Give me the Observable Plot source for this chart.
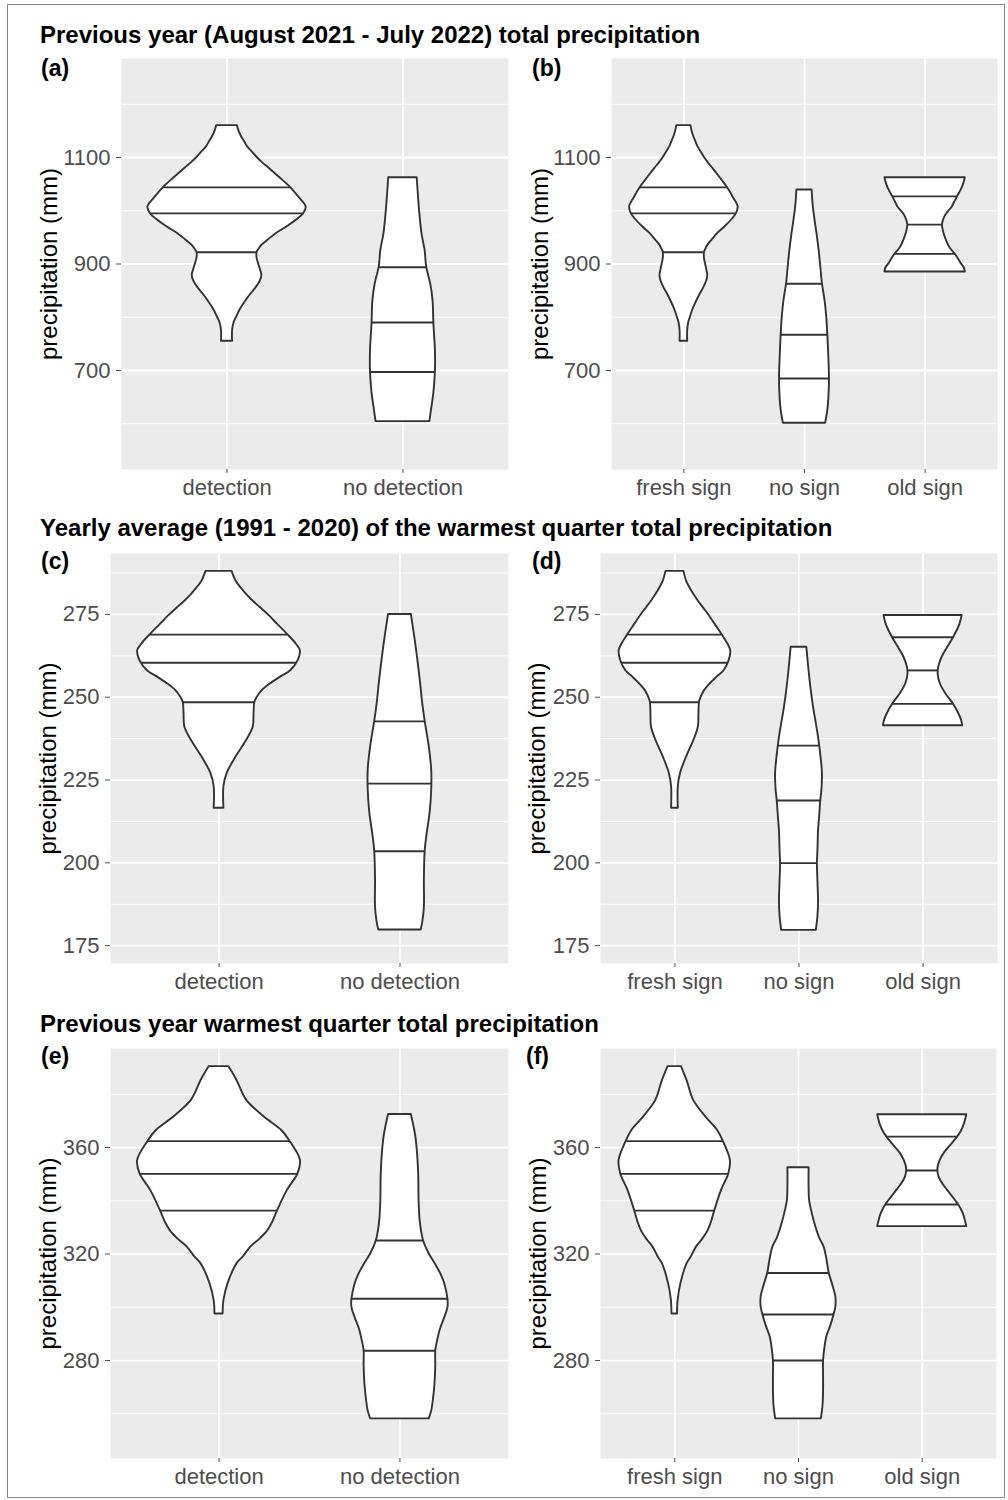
<!DOCTYPE html>
<html><head><meta charset="utf-8">
<script src="https://cdn.jsdelivr.net/npm/d3@7"></script>
<script src="https://cdn.jsdelivr.net/npm/@observablehq/plot@0.6"></script>
<style>
body{margin:0;background:#fff;}
#fig{position:relative;width:1008px;height:1500px;font-family:"Liberation Sans",Arial,sans-serif;overflow:hidden;}
.pl{position:absolute;}
.t{position:absolute;font-weight:bold;font-size:24px;line-height:24px;white-space:nowrap;color:#000;}
.tag{position:absolute;font-weight:bold;font-size:23px;line-height:23px;white-space:nowrap;color:#000;}
#border{position:absolute;left:7px;top:4px;width:998px;height:1494px;border:1.5px solid #8a8a8a;box-sizing:border-box;pointer-events:none}
</style></head><body><div id="fig"></div>
<script>
// ---------- categories ----------
const catsDetection = ["detection", "no detection"];
const catsSign = ["fresh sign", "no sign", "old sign"];

// ---------- section titles & panel tags ----------
const sectionTitles = [
  "Previous year (August 2021 - July 2022) total precipitation",
  "Yearly average (1991 - 2020) of the warmest quarter total precipitation",
  "Previous year warmest quarter total precipitation"
];
const panelTags = ["(a)", "(b)", "(c)", "(d)", "(e)", "(f)"];
const yTitle = "precipitation (mm)";

// ---------- violin profiles: [precipitation, relative density (1 = widest)] ----------
// Previous year total precipitation (a, b)
const prevDetection = [[755,.07],[775,.07],[790,.09],[800,.12],[815,.17],[831,.24],[845,.31],[856,.37],[868,.42],[878,.44],[890,.42],[900,.40],[910,.38],[922,.38],[929,.41],[935,.44],[945,.52],[957,.62],[970,.76],[985,.90],[995,.97],[1007,1.0],[1025,.91],[1044,.80],[1063,.66],[1080,.53],[1090,.45],[1100,.38],[1110,.32],[1120,.26],[1130,.22],[1140,.18],[1150,.15],[1160,.13]];
const prevDetectionQ = [922, 995, 1044];
const prevNoDetection = [[604,.34],[625,.36],[657,.39],[697,.41],[737,.41],[790,.39],[831,.38],[863,.35],[894,.30],[925,.28],[957,.24],[1000,.21],[1040,.19],[1062,.18]];
const prevNoDetectionQ = [697, 790, 894];
const prevNoSign = [[601,.39],[625,.43],[650,.45],[685,.46],[720,.45],[767,.43],[800,.41],[830,.38],[863,.33],[895,.30],[925,.27],[957,.23],[985,.19],[1010,.16],[1039,.14]];
const prevNoSignQ = [685, 767, 863];
const prevOldSign = [[885,.74],[893,.72],[900,.67],[910,.61],[919,.55],[930,.46],[945,.39],[960,.34],[974,.32],[990,.37],[1007,.50],[1015,.54],[1027,.60],[1040,.67],[1050,.71],[1062,.74]];
const prevOldSignQ = [919, 974, 1027];

// Yearly average (1991-2020) warmest quarter precipitation (c, d)
const avgDetection = [[216.5,.06],[223,.06],[227,.10],[232,.21],[237,.34],[241,.42],[245,.43],[248.5,.44],[250,.47],[252,.53],[254,.63],[256,.75],[258,.88],[261,.97],[264,1.0],[266,.95],[269,.84],[272,.72],[275,.60],[277,.51],[279,.42],[281,.34],[283,.27],[285,.21],[288,.16]];
const avgDetectionQ = [248.5, 260.4, 268.9];
const avgNoDetection = [[179.7,.26],[182,.28],[186.5,.30],[195,.30],[203.5,.31],[208,.33],[215,.37],[222,.39],[228,.39],[235,.36],[242.7,.31],[248,.28],[255,.25],[265,.20],[275,.14]];
const avgNoDetectionQ = [203.5, 223.9, 242.7];
const avgNoSign = [[179.6,.31],[184,.34],[188.4,.35],[194,.34],[199.9,.33],[204,.34],[209.7,.35],[214,.37],[218.8,.39],[222,.41],[226.8,.42],[231,.40],[235.4,.37],[239,.34],[243,.30],[247,.26],[252,.22],[258,.18],[265.1,.14]];
const avgNoSignQ = [199.9, 218.8, 235.4];
const avgOldSign = [[241.4,.71],[243,.69],[245,.64],[248,.54],[251,.41],[254,.31],[257,.27],[259,.28],[262,.34],[265,.44],[268.1,.55],[272,.66],[274.7,.70]];
const avgOldSignQ = [248, 258.1, 268.1];

// Previous year warmest quarter precipitation (e, f)
const warmDetection = [[297.5,.05],[302.5,.06],[308.8,.11],[316.3,.22],[319,.30],[322.6,.39],[325.5,.50],[328.8,.60],[332,.66],[336.3,.72],[343.9,.84],[350.1,.97],[355.1,1.0],[362.4,.87],[366.4,.77],[371.4,.56],[377.7,.34],[385.2,.22],[390.4,.12]];
const warmDetectionQ = [336.3, 350.1, 362.4];
const warmNoDetection = [[258.1,.36],[261,.39],[265,.41],[271,.43],[278,.44],[283.7,.44],[287,.46],[292,.50],[296,.55],[300,.59],[303,.59],[308.8,.55],[312,.51],[316,.44],[320,.36],[325,.29],[332,.25],[340,.235],[350,.23],[360,.21],[365,.19],[372.4,.14]];
const warmNoDetectionQ = [283.7, 303.2, 325.1];
const warmNoSign = [[258.1,.41],[263,.44],[268.7,.45],[274,.45],[280,.45],[284,.47],[289,.51],[293,.58],[297.3,.64],[300,.67],[304,.67],[308,.62],[313,.55],[318,.51],[322.6,.46],[326,.38],[331,.30],[335,.25],[340,.20],[345,.19],[352.4,.19]];
const warmNoSignQ = [280, 297.3, 312.9];
const warmOldSign = [[330.3,.80],[332,.78],[335,.74],[338.6,.65],[340,.60],[343,.49],[346,.38],[349,.30],[352,.28],[355,.32],[358,.40],[361,.52],[364.1,.64],[366,.70],[369,.76],[372.3,.80]];
const warmOldSignQ = [338.6, 351.4, 364.1];

// ---------- axis ticks ----------
const ticksPrev = [700, 900, 1100], minorPrev = [600, 800, 1000, 1200];
const ticksAvg = [175, 200, 225, 250, 275], minorAvg = [187.5, 212.5, 237.5, 262.5, 287.5];
const ticksWarm = [280, 320, 360], minorWarm = [260, 300, 340, 380];

// ---------- layout ----------
const panels = [
  {tag:0, left:10,  top:48,   w:505, h:462, frame:[121,508,58,469],   y:[514,1286],   major:ticksPrev, minor:minorPrev, cats:catsDetection,
   violins:[[prevDetection,prevDetectionQ],[prevNoDetection,prevNoDetectionQ]], titleX:49, tagX:41, tagBase:76},
  {tag:1, left:515, top:48,   w:488, h:462, frame:[611,997,58,469],   y:[514,1286],   major:ticksPrev, minor:minorPrev, cats:catsSign,
   violins:[[prevDetection,prevDetectionQ],[prevNoSign,prevNoSignQ],[prevOldSign,prevOldSignQ]], titleX:540, tagX:532, tagBase:76},
  {tag:2, left:10,  top:545,  w:505, h:460, frame:[110,508,553,963],  y:[169.6,293.4], major:ticksAvg, minor:minorAvg, cats:catsDetection,
   violins:[[avgDetection,avgDetectionQ],[avgNoDetection,avgNoDetectionQ]], titleX:48, tagX:41, tagBase:569},
  {tag:3, left:515, top:545,  w:488, h:460, frame:[600,997,553,963],  y:[169.6,293.4], major:ticksAvg, minor:minorAvg, cats:catsSign,
   violins:[[avgDetection,avgDetectionQ],[avgNoSign,avgNoSignQ],[avgOldSign,avgOldSignQ]], titleX:537, tagX:532, tagBase:569},
  {tag:4, left:10,  top:1040, w:505, h:455, frame:[110,508,1048,1458], y:[243.2,397.2], major:ticksWarm, minor:minorWarm, cats:catsDetection,
   violins:[[warmDetection,warmDetectionQ],[warmNoDetection,warmNoDetectionQ]], titleX:48, tagX:41, tagBase:1064},
  {tag:5, left:515, top:1040, w:488, h:455, frame:[600,996,1048,1458], y:[243.2,397.2], major:ticksWarm, minor:minorWarm, cats:catsSign,
   violins:[[warmDetection,warmDetectionQ],[warmNoSign,warmNoSignQ],[warmOldSign,warmOldSignQ]], titleX:538, tagX:526, tagBase:1064}
];
const titleBaselines = [43.5, 536, 1032];

function widthAt(profile, v) {
  for (let i = 0; i < profile.length - 1; i++) {
    const [v0, d0] = profile[i], [v1, d1] = profile[i + 1];
    if (v >= v0 && v <= v1) return d0 + (d1 - d0) * (v - v0) / (v1 - v0);
  }
  return v < profile[0][0] ? profile[0][1] : profile[profile.length - 1][1];
}

const HALF = 0.45;
const fig = document.getElementById("fig");

for (const p of panels) {
  const [fx0, fx1, fy0, fy1] = p.frame;
  const n = p.cats.length;
  const marks = [
    Plot.frame({fill: "#EBEBEB", stroke: "none"}),
    Plot.ruleY(p.minor, {stroke: "white", strokeWidth: 0.9}),
    Plot.ruleY(p.major, {stroke: "white", strokeWidth: 1.8}),
    Plot.ruleX(d3.range(1, n + 1), {stroke: "white", strokeWidth: 1.8})
  ];
  p.violins.forEach(([profile, quart], i) => {
    const pos = i + 1;
    const rows = profile.map(([v, d]) => ({v, d}));
    marks.push(Plot.areaX(rows, {
      y: "v", x1: r => pos - HALF * r.d, x2: r => pos + HALF * r.d,
      fill: "white", stroke: "#333333", strokeWidth: 1.9, curve: "catmull-rom"
    }));
    const qs = quart.map(q => ({q, d: widthAt(profile, q)}));
    marks.push(Plot.ruleY(qs, {
      y: "q", x1: r => pos - HALF * r.d, x2: r => pos + HALF * r.d,
      stroke: "#333333", strokeWidth: 1.9
    }));
  });
  marks.push(
    Plot.axisY(p.major, {tickSize: 5, tickPadding: 6, fontSize: 22, tickFormat: d => `${d}`, color: "#4d4d4d", label: null}),
    Plot.axisX(d3.range(1, n + 1), {tickSize: 4, tickPadding: 6, fontSize: 22, tickFormat: i => p.cats[i - 1], color: "#4d4d4d", label: null}),
    Plot.text([yTitle], {text: d => d, frameAnchor: "left", textAnchor: "middle", rotate: -90, dx: p.titleX - fx0, fontSize: 24, fill: "#000"})
  );
  const chart = Plot.plot({
    width: p.w, height: p.h,
    marginLeft: fx0 - p.left, marginRight: p.left + p.w - fx1,
    marginTop: fy0 - p.top, marginBottom: p.top + p.h - fy1,
    x: {domain: [0.4, n + 0.6]},
    y: {domain: p.y},
    style: {fontFamily: '"Liberation Sans", Arial, sans-serif', background: "transparent", color: "#333"},
    marks
  });
  const wrap = document.createElement("div");
  wrap.className = "pl";
  wrap.style.left = p.left + "px";
  wrap.style.top = p.top + "px";
  wrap.appendChild(chart);
  fig.appendChild(wrap);
}

// Section titles
sectionTitles.forEach((t, i) => {
  const d = document.createElement("div");
  d.className = "t";
  d.textContent = t;
  d.style.left = "40px";
  d.style.top = (titleBaselines[i] - 0.8465 * 24) + "px";
  fig.appendChild(d);
});
// Panel tags
panels.forEach(p => {
  const d = document.createElement("div");
  d.className = "tag";
  d.textContent = panelTags[p.tag];
  d.style.left = p.tagX + "px";
  d.style.top = (p.tagBase - 0.8465 * 23) + "px";
  fig.appendChild(d);
});
const b = document.createElement("div");
b.id = "border";
fig.appendChild(b);
</script>
</body></html>
